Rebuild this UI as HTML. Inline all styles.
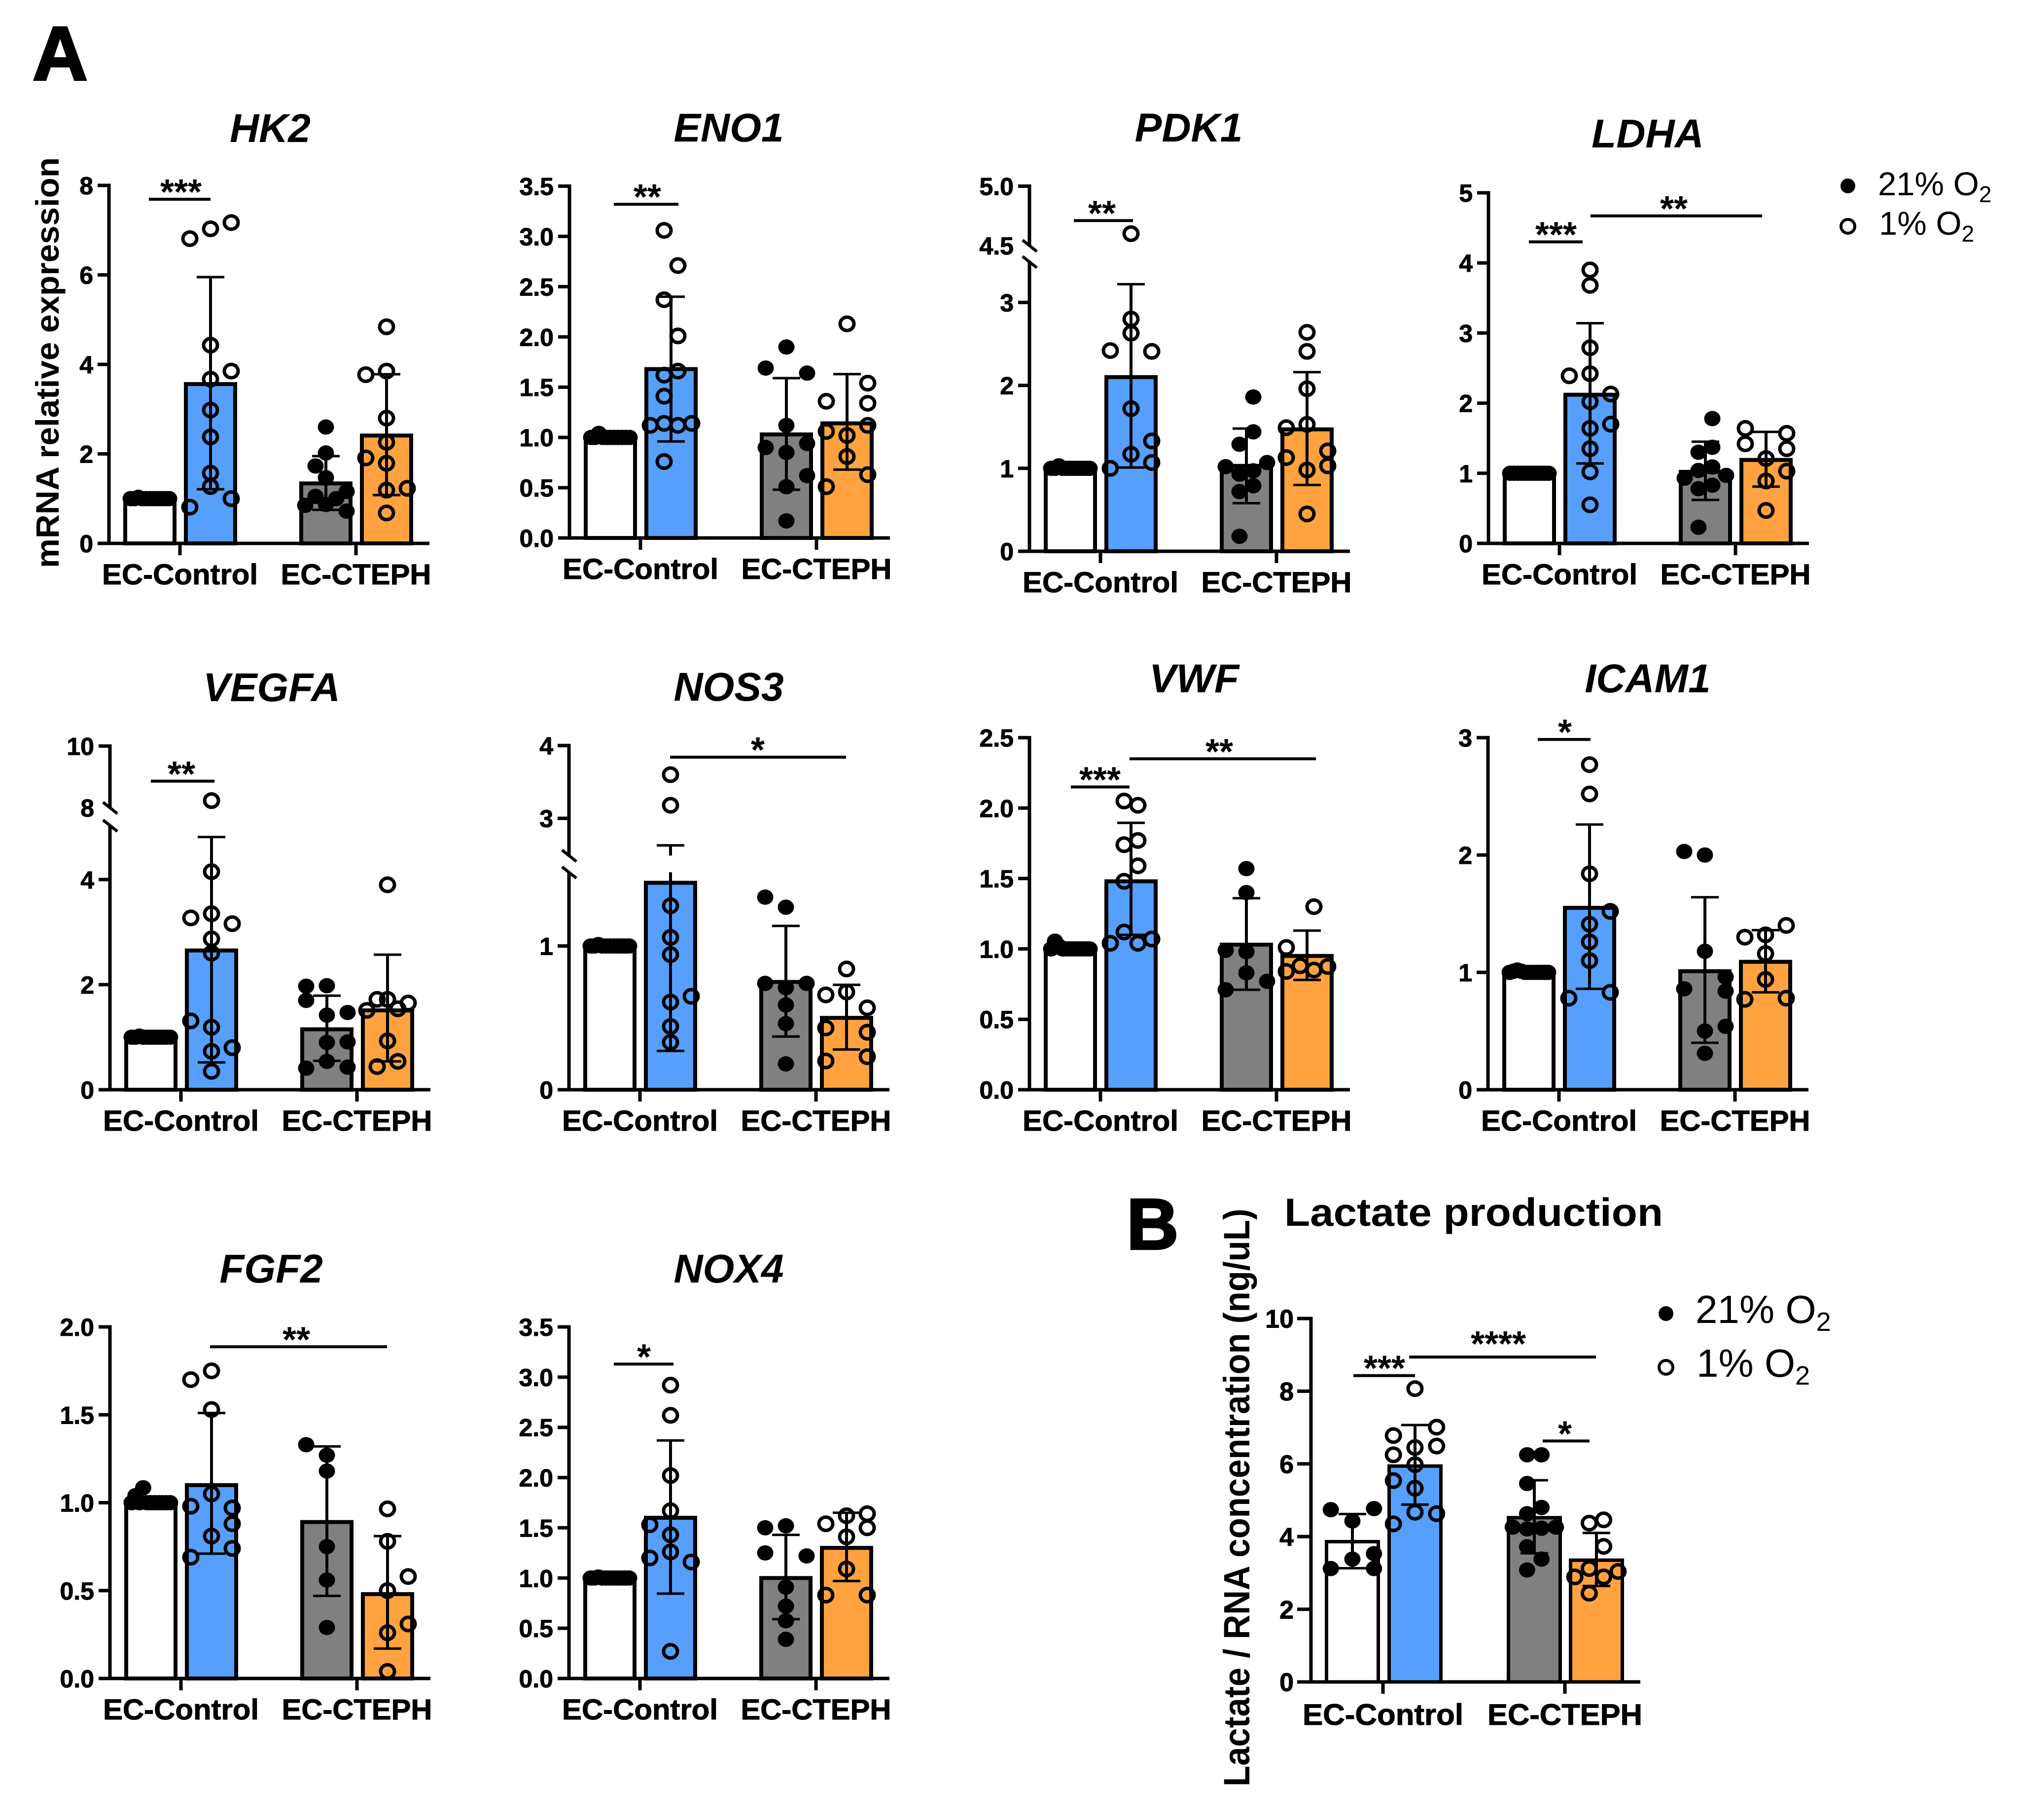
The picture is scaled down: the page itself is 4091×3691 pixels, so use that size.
<!DOCTYPE html>
<html lang="en">
<head>
<meta charset="utf-8">
<title>Gene expression under hypoxia in EC-Control and EC-CTEPH</title>
<style>
html,body{margin:0;padding:0;background:#fff;}
svg{display:block;font-family:"Liberation Sans",Arial,sans-serif;}
</style>
</head>
<body>
<svg id="figure" xmlns="http://www.w3.org/2000/svg" width="4091" height="3691" viewBox="0 0 4091 3691">
  <rect x="0" y="0" width="4091" height="3691" fill="#ffffff"/>
  <text x="66" y="162" font-size="155" font-weight="700" stroke="#000" stroke-width="4">A</text>
  <text x="2285" y="2533" font-size="146" font-weight="700" stroke="#000" stroke-width="4">B</text>
  <text transform="translate(119,1152) rotate(-90)" font-size="66" font-weight="700" textLength="833" lengthAdjust="spacingAndGlyphs">mRNA relative expression</text>
  <text transform="translate(2534,3623) rotate(-90)" font-size="74" font-weight="700" textLength="1172" lengthAdjust="spacingAndGlyphs">Lactate / RNA concentration (ng/uL)</text>
  <text x="2605" y="2486" font-size="80" font-weight="700" textLength="768" lengthAdjust="spacingAndGlyphs">Lactate production</text>
  <g>
    <ellipse cx="3748" cy="377" rx="15" ry="15" fill="#000"/>
    <text x="3809" y="396" font-size="67">21% O<tspan font-size="46" dy="14">2</tspan></text>
    <ellipse cx="3748" cy="459" rx="14" ry="14" fill="none" stroke="#000" stroke-width="6"/>
    <text x="3811" y="476" font-size="67">1% O<tspan font-size="46" dy="14">2</tspan></text>
  </g>
  <g>
    <ellipse cx="3379" cy="2664" rx="15" ry="15" fill="#000"/>
    <text x="3439" y="2683" font-size="80">21% O<tspan font-size="54" dy="16">2</tspan></text>
    <ellipse cx="3379" cy="2773" rx="14" ry="14" fill="none" stroke="#000" stroke-width="6"/>
    <text x="3441" y="2792" font-size="80">1% O<tspan font-size="54" dy="16">2</tspan></text>
  </g>
</svg>
<script>
const groups = ["EC-Control", "EC-CTEPH"];
const barNames = ["control-21", "control-1", "cteph-21", "cteph-1"];
const barFill = ["#ffffff", "#569ffc", "#808080", "#ffa23f"];

const ones = [1,1,1.03,1,1,1,1,1,1,1,1];

const HK2_ticks = [0,2,4,6,8];
const HK2_means = [1,3.56,1.34,2.41];
const HK2_errHigh = [1,5.95,1.95,3.78];
const HK2_errLow = [1,1.21,0.75,1.08];
const HK2_pts = [ones,
 [6.81,7.03,7.17,4.43,3.85,3.67,2.98,2.38,1.57,1.27,1.0,0.81],
 [2.6,2.02,1.73,1.47,1.16,1.05,1.0,0.85,0.87,0.72],
 [4.84,3.85,3.77,2.8,2.26,1.91,1.79,1.19,1.23,0.68]];
const HK2_slots = [null,
 [-3,0,3,0,3,0,0,0,0,0,3,-3],
 [0,0,-1.5,0,3,-1.5,1.5,-3,0,3],
 [0,0,-3,0,0,-3,0,0,3,0]];

const ENO1_ticks = [0,0.5,1,1.5,2,2.5,3,3.5];
const ENO1_means = [1,1.68,1.03,1.14];
const ENO1_errHigh = [1,2.40,1.59,1.63];
const ENO1_errLow = [1,0.96,0.48,0.68];
const ENO1_pts = [[1,1,1.04,1,1,1,1,1,1,1,1],
 [3.06,2.71,2.37,2.01,1.66,1.62,1.41,1.12,1.14,1.12,1.14,0.76],
 [1.90,1.69,1.64,1.12,0.90,0.94,0.85,0.62,0.51,0.17],
 [2.13,1.54,1.36,1.34,1.12,1.06,1.02,0.81,0.63,0.51]];
const ENO1_slots = [null,
 [-1,1,-1,1,1,-1,-1,-3,-1,1,3,-1],
 [0,-3,3,0,-3,3,0,3,0,0],
 [0,3,-3,3,3,-3,0,0,3,-3]];

const PDK1_ticks = [0,1,2,3,4.5,5];
const PDK1_tickLabels = ["0","1","2","3","4.5","5.0"];
const PDK1_means = [1,2.10,1.03,1.47];
const PDK1_errHigh = [1,3.22,1.48,2.16];
const PDK1_errLow = [1,1.01,0.58,0.80];
const PDK1_pts = [[1,1,1.03,1,1,1,1,1,1,1,1],
 [4.60,2.80,2.63,2.42,2.41,1.72,1.33,1.17,1.07,1.0],
 [1.86,1.44,1.29,1.02,1.07,0.97,0.93,0.79,0.72,0.18],
 [2.64,2.41,1.96,1.53,1.49,1.13,1.21,1.03,0.98,0.45]];
const PDK1_slots = [null,
 [0,0,0,-3,3,0,3,0,3,-3],
 [1,1,-1,-3,3,1,-1,1,-1,-1],
 [0,0,0,0,-3,-3,3,3,0,0]];

const LDHA_ticks = [0,1,2,3,4,5];
const LDHA_means = [1,2.12,1.02,1.19];
const LDHA_errHigh = [1,3.14,1.45,1.59];
const LDHA_errLow = [1,1.14,0.62,0.81];
const LDHA_pts = [[1,1,1,1,1,1,1,1,1,1,1],
 [3.90,3.68,2.79,2.42,2.39,2.13,2.02,1.70,1.64,1.35,1.02,0.55],
 [1.78,1.37,1.30,1.09,1.04,0.97,0.93,0.83,0.78,0.23],
 [1.64,1.57,1.42,1.35,1.21,1.03,0.89,0.47]];
const LDHA_slots = [null,
 [0,0,0,0,-3,3,0,3,0,0,0,0],
 [1,1,-1,1,-1,3,-3,1,-1,-1],
 [-3,3,-3,3,0,3,0,0]];

const VEGFA_ticks = [0,2,4,8,10];
const VEGFA_means = [1,2.65,1.15,1.51];
const VEGFA_errHigh = [1,4.81,1.79,2.57];
const VEGFA_errLow = [1,0.52,0.55,0.54];
const VEGFA_pts = [[1,1,1.02,1,1,1,1,1,1,1,1],
 [8.23,4.15,3.27,3.35,3.16,2.87,2.60,1.31,1.19,0.73,0.80,0.35],
 [1.97,1.98,1.70,1.42,1.47,0.90,0.91,0.54,0.41,0.43],
 [3.90,1.72,1.72,1.65,1.54,1.51,0.93,0.54,0.44]];
const VEGFA_slots = [null,
 [0,0,-3,0,3,0,0,-3,0,0,3,0],
 [-3,0,-3,0,3,0,3,0,-3,3],
 [0,0,-1.5,3,1.5,-3,0,1.5,-1.5]];

const NOS3_ticks = [0,1,3,4];
const NOS3_means = [1,1.44,0.75,0.50];
const NOS3_errHigh = [1,2.63,1.14,0.73];
const NOS3_errLow = [1,0.27,0.37,0.28];
const NOS3_pts = [[1,1,1.01,1,1,1,1,1,1,1,1],
 [3.60,3.18,1.28,1.06,0.94,0.65,0.61,0.44,0.33],
 [1.34,1.27,0.74,0.74,0.71,0.59,0.46,0.18],
 [0.84,0.66,0.68,0.57,0.43,0.40,0.20,0.23]];
const NOS3_slots = [null,
 [0,0,0,0,0,3,0,0,0],
 [-3,0,-3,3,0,0,0,0],
 [0,-3,0,3,-3,3,-3,3]];

const VWF_ticks = [0,0.5,1,1.5,2,2.5];
const VWF_means = [1,1.48,1.03,0.95];
const VWF_errHigh = [1,1.895,1.36,1.13];
const VWF_errLow = [1,1.10,0.71,0.78];
const VWF_pts = [[1,1.055,1.02,1,1,1,1,1,1,1,1],
 [2.05,2.02,1.77,1.74,1.59,1.48,1.12,1.07,1.04,1.04],
 [1.57,1.40,0.99,0.98,0.83,0.77,0.71],
 [1.30,1.01,0.88,0.875,0.84,0.85]];
const VWF_slots = [null,
 [-1,1,1,-1,1,-1,-1,3,-3,1],
 [0,0,-3,0,0,3,-3],
 [1,-3,-1,3,-3,1]];

const ICAM1_ticks = [0,1,2,3];
const ICAM1_means = [1,1.55,1.01,1.09];
const ICAM1_errHigh = [1,2.26,1.64,1.36];
const ICAM1_errLow = [1,0.86,0.40,0.83];
const ICAM1_pts = [[1,1.01,1.02,1.01,1,1,1,1,1,1,1],
 [2.77,2.52,1.84,1.52,1.41,1.26,1.10,0.83,0.78],
 [2.03,2.0,1.18,0.96,0.86,0.84,0.54,0.50,0.31],
 [1.40,1.32,1.30,1.16,0.94,0.77,0.78]];
const ICAM1_slots = [null,
 [0,0,0,3,0,0,0,3,-3],
 [-3,0,0,3,-3,3,3,0,0],
 [3,0,-3,0,0,-3,3]];

const FGF2_ticks = [0,0.5,1,1.5,2];
const FGF2_means = [1,1.10,0.89,0.48];
const FGF2_errHigh = [1,1.51,1.32,0.81];
const FGF2_errLow = [1,0.71,0.47,0.17];
const FGF2_pts = [[1,1.04,1,1.085,1,1,1,1,1,1,1],
 [1.75,1.70,1.53,1.05,0.98,0.97,0.88,0.81,0.74,0.69],
 [1.33,1.27,1.18,0.75,0.56,0.29],
 [0.965,0.78,0.58,0.50,0.31,0.26,0.04]];
const FGF2_slots = [null,
 [0,-3,0,0,-3,3,3,0,3,-3],
 [-3,0,0,0,0,0],
 [0,0,3,0,3,0,0]];

const NOX4_ticks = [0,0.5,1,1.5,2,2.5,3,3.5];
const NOX4_means = [1,1.60,1.0,1.30];
const NOX4_errHigh = [1,2.37,1.43,1.65];
const NOX4_errLow = [1,0.845,0.59,0.97];
const NOX4_pts = [[1,1,1.01,1,1,1,1,1,1,1,1],
 [2.92,2.62,2.02,1.67,1.53,1.43,1.26,1.20,1.16,0.27],
 [1.50,1.52,1.25,1.22,0.91,0.72,0.575,0.39],
 [1.64,1.62,1.54,1.50,1.41,1.09,0.83,0.83]];
const NOX4_slots = [null,
 [0,0,0,0,-3,0,0,-3,3,0],
 [-3,0,-3,3,0,0,0,0],
 [3,0,-3,3,0,0,-3,3]];

const LACT_ticks = [0,2,4,6,8,10];
const LACT_means = [3.86,5.94,4.52,3.35];
const LACT_errHigh = [4.62,7.07,5.55,4.10];
const LACT_errLow = [3.13,4.88,3.54,2.64];
const LACT_pts = [[4.74,4.77,4.43,3.53,3.38,3.12,3.12],
 [8.07,7.01,6.78,6.45,6.49,6.25,5.98,5.54,5.33,4.67,4.63,4.35],
 [6.25,6.25,5.46,4.80,4.63,4.26,4.21,4.23,4.26,3.72,3.38,3.08],
 [4.46,4.37,3.73,3.12,3.04,2.89,2.89,2.44]];
const LACT_slots = [[-3,3,0,3,0,-3,3],
 [0,3,-3,0,3,-3,0,-3,0,0,3,-3],
 [-1,1,-1,1,-1,-3,-1,1,3,-1,1,-1],
 [1,-1,1,-1,3,1,-3,-1]];

const svg = document.getElementById('figure');
const NS = 'http://www.w3.org/2000/svg';

function mk(parent, tag, attrs, txt) {
  const el = document.createElementNS(NS, tag);
  for (const k in attrs) el.setAttribute(k, attrs[k]);
  if (txt !== undefined) el.textContent = txt;
  parent.appendChild(el);
  return el;
}

function makeY(p) {
  if (!p.brk) {
    const s = (p.y0 - p.yTop) / p.max;
    return v => p.y0 - v * s;
  }
  const b = p.brk;
  const lo = (p.y0 - b.yLow) / b.low;
  const hi = (b.yHigh - p.yTop) / (p.max - b.high);
  return v => v >= b.high ? p.yTop + (p.max - v) * hi : p.y0 - v * lo;
}

function line(parent, x1, y1, x2, y2, w) {
  return mk(parent, 'line', {x1:x1, y1:y1, x2:x2, y2:y2, stroke:'#000', 'stroke-width':w});
}

function drawPanel(p) {
  const L = Object.assign({bars:[83,206,440,563], xt:[144,501], barW:100, bs:8, xEnd:650, tl:23, lab:32, fs:50, xfs:58, xb:83, xw:[316,305], unit:14}, p.layout || {});
  const y = makeY(p);
  const ax = p.ax;
  const g = mk(svg, 'g', {});
  
  

  if (p.title) {
    const t = mk(g, 'text', {x:p.tx, y:p.ty - 3, 'font-size':82, 'font-weight':700, 'font-style':'italic', 'text-anchor':'middle'}, p.title);
    
    
  }

  // bars
  L.bars.forEach((c, i) => {
    const top = y(p.means[i]);
    const r = mk(g, 'rect', {x:ax + c - L.barW / 2, y:top, width:L.barW, height:p.y0 - top, fill:barFill[i], stroke:'#000', 'stroke-width':L.bs});
    
    
  });

  // error bars
  L.bars.forEach((c, i) => {
    if (p.errHigh[i] === p.errLow[i]) return;
    const cx = ax + c;
    const e = mk(g, 'g', {});
    
    
    const yh = y(p.errHigh[i]), yl = y(p.errLow[i]);
    if (p.brk && p.errHigh[i] >= p.brk.high && p.errLow[i] <= p.brk.low) {
      line(e, cx, yl, cx, p.brk.yLow, 6);
      line(e, cx, p.brk.yHigh, cx, yh, 6);
    } else {
      line(e, cx, yl, cx, yh, 6);
    }
    line(e, cx - 28, yh, cx + 28, yh, 5);
    line(e, cx - 28, yl, cx + 28, yl, 5);
  });

  // data points
  L.bars.forEach((c, i) => {
    const vals = p.pts[i];
    const slots = p.slots[i];
    const open = i % 2 === 1;
    const n = vals.length;
    vals.forEach((v, j) => {
      const dx = slots ? slots[j] * L.unit : (j / (n - 1) * 2 - 1) * (L.barW / 2 - 11);
      const d = mk(g, 'ellipse', open
        ? {cx:ax + c + dx, cy:y(v), rx:14, ry:13.5, fill:'none', stroke:'#000', 'stroke-width':7}
        : {cx:ax + c + dx, cy:y(v), rx:16.5, ry:15.5, fill:'#000'});
      
      
    });
  });

  // axes
  const axisG = mk(g, 'g', {});
  
  
  if (p.brk) {
    line(axisG, ax, p.y0 + 3, ax, p.brk.yLow, 7);
    line(axisG, ax, p.brk.yHigh, ax, p.yTop - 3.5, 7);
    line(axisG, ax - 14, p.brk.yLow - 11, ax + 15, p.brk.yLow + 12, 6);
    line(axisG, ax - 14, p.brk.yHigh - 11, ax + 15, p.brk.yHigh + 12, 6);
  } else {
    line(axisG, ax, p.y0 + 3, ax, p.yTop - 3.5, 7);
  }
  p.ticks.forEach((v, i) => {
    const ty = y(v);
    if (!(p.brk && v === p.brk.high)) line(axisG, ax - L.tl, ty, ax, ty, 7);
    const label = p.tickLabels ? p.tickLabels[i] : v.toFixed(p.dec);
    const lbl = mk(axisG, 'text', {x:ax - L.lab, y:ty + L.fs * 0.36, 'font-size':L.fs, 'font-weight':700, 'text-anchor':'end', stroke:'#000', 'stroke-width':1}, label);
    
    
  });

  const xG = mk(g, 'g', {});
  
  
  line(xG, ax - L.tl, p.y0, ax + L.xEnd, p.y0, 7);
  L.xt.forEach((tx, i) => {
    line(xG, ax + tx, p.y0, ax + tx, p.y0 + 24, 7);
    const lbl = mk(xG, 'text', {x:ax + tx, y:p.y0 + L.xb, 'font-size':L.xfs, 'font-weight':700, 'text-anchor':'middle', textLength:L.xw[i], lengthAdjust:'spacingAndGlyphs', stroke:'#000', 'stroke-width':1}, groups[i]);
    
    
  });

  // significance brackets
  (p.sig || []).forEach(s => {
    const sy = y(s.v);
    const b = line(g, ax + s.x1, sy, ax + s.x2, sy, 6);
    
    
    const st = mk(g, 'text', {x:ax + s.sx, y:sy + 10 - (s.up || 0), 'font-size':72, 'font-weight':700, 'text-anchor':'middle'}, s.s);
    
    
  });
}

drawPanel({id:'hk2', title:'HK2', tx:548, ty:291, ax:221, y0:1102, yTop:376, max:8, dec:0,
  ticks:HK2_ticks, means:HK2_means, errHigh:HK2_errHigh, errLow:HK2_errLow, pts:HK2_pts, slots:HK2_slots,
  sig:[{x1:81, x2:206, v:7.69, s:'***', sx:146}]});
drawPanel({id:'eno1', title:'ENO1', tx:1478, ty:290, ax:1155, y0:1091, yTop:377.5, max:3.5, dec:1,
  ticks:ENO1_ticks, means:ENO1_means, errHigh:ENO1_errHigh, errLow:ENO1_errLow, pts:ENO1_pts, slots:ENO1_slots,
  sig:[{x1:90, x2:221, v:3.32, s:'**', sx:158}]});
drawPanel({id:'pdk1', title:'PDK1', tx:2411, ty:290, ax:2088, y0:1118, yTop:377.5, max:5, dec:0,
  brk:{low:3.49, yLow:531, high:4.5, yHigh:498},
  ticks:PDK1_ticks, tickLabels:PDK1_tickLabels, means:PDK1_means, errHigh:PDK1_errHigh, errLow:PDK1_errLow, pts:PDK1_pts, slots:PDK1_slots,
  sig:[{x1:90, x2:210, v:4.71, s:'**', sx:147}]});
drawPanel({id:'ldha', title:'LDHA', tx:3342, ty:302, ax:3019, y0:1102, yTop:391, max:5, dec:0,
  ticks:LDHA_ticks, means:LDHA_means, errHigh:LDHA_errHigh, errLow:LDHA_errLow, pts:LDHA_pts, slots:LDHA_slots,
  sig:[{x1:82, x2:191, v:4.30, s:'***', sx:137},{x1:207, x2:555, v:4.67, s:'**', sx:376}]});
drawPanel({id:'vegfa', title:'VEGFA', tx:551, ty:1425, ax:223, y0:2210, yTop:1513, max:10, dec:0,
  brk:{low:5.03, yLow:1674, high:8, yHigh:1638},
  ticks:VEGFA_ticks, means:VEGFA_means, errHigh:VEGFA_errHigh, errLow:VEGFA_errLow, pts:VEGFA_pts, slots:VEGFA_slots,
  sig:[{x1:83, x2:212, v:8.86, s:'**', sx:145}]});
drawPanel({id:'nos3', title:'NOS3', tx:1478, ty:1424, ax:1154, y0:2210, yTop:1512, max:4, dec:0,
  brk:{low:1.513, yLow:1769, high:2.49, yHigh:1735},
  ticks:NOS3_ticks, means:NOS3_means, errHigh:NOS3_errHigh, errLow:NOS3_errLow, pts:NOS3_pts, slots:NOS3_slots,
  sig:[{x1:205, x2:562, v:3.84, s:'*', sx:383}]});
drawPanel({id:'vwf', title:'VWF', tx:2422, ty:1407, ax:2088, y0:2210, yTop:1496, max:2.5, dec:1,
  ticks:VWF_ticks, means:VWF_means, errHigh:VWF_errHigh, errLow:VWF_errLow, pts:VWF_pts, slots:VWF_slots,
  sig:[{x1:84, x2:203, v:2.15, s:'***', sx:143},{x1:203, x2:581, v:2.35, s:'**', sx:385}]});
drawPanel({id:'icam1', title:'ICAM1', tx:3342, ty:1407, ax:3018, y0:2210, yTop:1496, max:3, dec:0,
  ticks:ICAM1_ticks, means:ICAM1_means, errHigh:ICAM1_errHigh, errLow:ICAM1_errLow, pts:ICAM1_pts, slots:ICAM1_slots,
  sig:[{x1:101, x2:208, v:2.985, s:'*', sx:156}]});
drawPanel({id:'fgf2', title:'FGF2', tx:550, ty:2604, ax:223, y0:3404, yTop:2691, max:2, dec:1,
  ticks:FGF2_ticks, means:FGF2_means, errHigh:FGF2_errHigh, errLow:FGF2_errLow, pts:FGF2_pts, slots:FGF2_slots,
  sig:[{x1:203, x2:562, v:1.887, s:'**', sx:378}]});
drawPanel({id:'nox4', title:'NOX4', tx:1478, ty:2604, ax:1154, y0:3404, yTop:2691, max:3.5, dec:1,
  ticks:NOX4_ticks, means:NOX4_means, errHigh:NOX4_errHigh, errLow:NOX4_errLow, pts:NOX4_pts, slots:NOX4_slots,
  sig:[{x1:91, x2:212, v:3.13, s:'*', sx:152}]});
drawPanel({id:'lactate', ax:2659, y0:3411, yTop:2674, max:10, dec:0,
  layout:{bars:[84,211,453,579], xt:[146,515], barW:105, bs:7, xEnd:668, tl:28, lab:35, fs:52, xfs:60, xb:87, xw:[326,314], unit:14.6},
  ticks:LACT_ticks, means:LACT_means, errHigh:LACT_errHigh, errLow:LACT_errLow, pts:LACT_pts, slots:LACT_slots,
  sig:[{x1:86, x2:211, v:8.43, s:'***', sx:149},{x1:199, x2:578, v:8.94, s:'****', sx:380, up:12},{x1:470, x2:565, v:6.63, s:'*', sx:515}]});
</script>
</body>
</html>
